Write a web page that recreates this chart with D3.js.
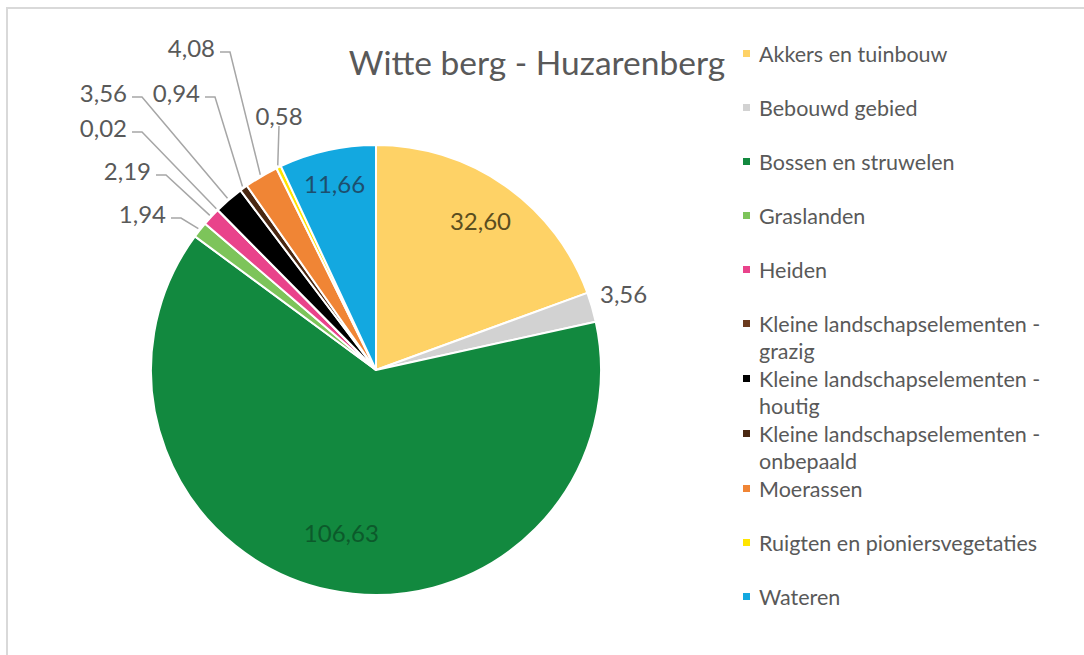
<!DOCTYPE html>
<html>
<head>
<meta charset="utf-8" />
<title>Witte berg - Huzarenberg</title>
<script src="https://d3js.org/d3.v7.min.js"></script>
<style>
    body { margin: 0; background: #ffffff; }
    svg { display: block; font-family: Lato, "Open Sans", sans-serif; }
    .lbl { fill: #595959; font-size: 24px; }
    .legend text { fill: #595959; font-size: 21.5px; }
    .leader { fill: none; stroke: #a6a6a6; stroke-width: 1.5px; }
</style>
</head>
<body>
<svg width="1084" height="655"></svg>
<script>
// data
var categories = ["Akkers en tuinbouw", "Bebouwd gebied", "Bossen en struwelen", "Graslanden", "Heiden",
    "Kleine landschapselementen - grazig", "Kleine landschapselementen - houtig",
    "Kleine landschapselementen - onbepaald", "Moerassen", "Ruigten en pioniersvegetaties", "Wateren"];
var values = [32.60, 3.56, 106.63, 1.94, 2.19, 0.02, 3.56, 0.94, 4.08, 0.58, 11.66];
var colors = ["#fed266", "#d2d2d2", "#12893f", "#7dc45a", "#e9438b", "#6b3a1e", "#000000",
    "#4a2812", "#f08535", "#ffe500", "#13a8e0"];
var title = "Witte berg - Huzarenberg";

// layout for the labels (text end x, text center y)
var inside = { 0: { k: 0.81, fill: "#5a4d1f" }, 10: { k: 0.85, fill: "#1d4f6e" }, 2: { k: 0.74, fill: "#0c5a2b" } };
var callouts = {
    1: { plain: true, x: 600, y: 293 },
    3: { x: 166, y: 213 },
    4: { x: 151, y: 170 },
    5: { x: 127, y: 127 },
    6: { x: 127, y: 92 },
    7: { x: 200, y: 92 },
    8: { x: 215, y: 47 },
    9: { vertical: true, x: 279, y: 115 }
};

var svg = d3.select("svg");

// frame
svg.append("path")
    .attr("d", "M7,655 V8 H1084")
    .attr("fill", "none")
    .attr("stroke", "#d9d9d9")
    .attr("stroke-width", 2);

var cx = 376, cy = 370, r = 225;
var fmt = function(v) { return d3.format(".2f")(v).replace(".", ","); };

var pie = d3.pie().sort(null).value(function(d) { return d; });
var arcs = pie(values);
var arc = d3.arc().innerRadius(0).outerRadius(r);

var g = svg.append("g").attr("transform", "translate(" + cx + "," + cy + ")");

g.selectAll("path.slice")
    .data(arcs)
    .enter()
    .append("path")
    .attr("class", "slice")
    .attr("d", arc)
    .attr("fill", function(d, i) { return colors[i]; })
    .attr("stroke", "#ffffff")
    .attr("stroke-width", 2)
    .attr("stroke-linejoin", "round");

// data labels
arcs.forEach(function(d, i) {
    var mid = (d.startAngle + d.endAngle) / 2;
    if (inside[i]) {
        var k = inside[i].k * r;
        g.append("text")
            .attr("class", "lbl")
            .attr("x", Math.sin(mid) * k)
            .attr("y", -Math.cos(mid) * k)
            .attr("text-anchor", "middle")
            .attr("dominant-baseline", "central")
            .style("fill", inside[i].fill)
            .text(fmt(values[i]));
        return;
    }
    var c = callouts[i];
    if (!c) return;
    var ex = cx + Math.sin(mid) * (r + 2), ey = cy - Math.cos(mid) * (r + 2);
    if (c.plain) {
        svg.append("text").attr("class", "lbl")
            .attr("x", c.x).attr("y", c.y)
            .attr("dominant-baseline", "central")
            .text(fmt(values[i]));
    } else if (c.vertical) {
        svg.append("path").attr("class", "leader")
            .attr("d", "M" + c.x + "," + (c.y + 11) + " L" + ex + "," + ey);
        svg.append("text").attr("class", "lbl")
            .attr("x", c.x).attr("y", c.y)
            .attr("text-anchor", "middle")
            .attr("dominant-baseline", "central")
            .text(fmt(values[i]));
    } else {
        var ly = c.y + 5;
        svg.append("path").attr("class", "leader")
            .attr("d", "M" + (c.x + 5) + "," + ly + " H" + (c.x + 15) + " L" + ex + "," + ey);
        svg.append("text").attr("class", "lbl")
            .attr("x", c.x).attr("y", c.y)
            .attr("text-anchor", "end")
            .attr("dominant-baseline", "central")
            .text(fmt(values[i]));
    }
});

// title
svg.append("text")
    .attr("x", 537)
    .attr("y", 62)
    .attr("text-anchor", "middle")
    .attr("dominant-baseline", "central")
    .style("font-size", "33.5px")
    .style("fill", "#595959")
    .text(title);

// legend
var lg = svg.append("g").attr("class", "legend");
var ly = 54;
categories.forEach(function(name, i) {
    var parts = name.indexOf(" - ") > 0 ? [name.split(" - ")[0] + " -", name.split(" - ")[1]] : [name];
    lg.append("rect")
        .attr("x", 743).attr("y", ly - 4)
        .attr("width", 7).attr("height", 7)
        .attr("fill", colors[i]);
    parts.forEach(function(p, j) {
        lg.append("text")
            .attr("x", 759).attr("y", ly + j * 27)
            .attr("dominant-baseline", "central")
            .text(p);
    });
    ly += parts.length > 1 ? 55 : 54;
});
</script>
</body>
</html>
